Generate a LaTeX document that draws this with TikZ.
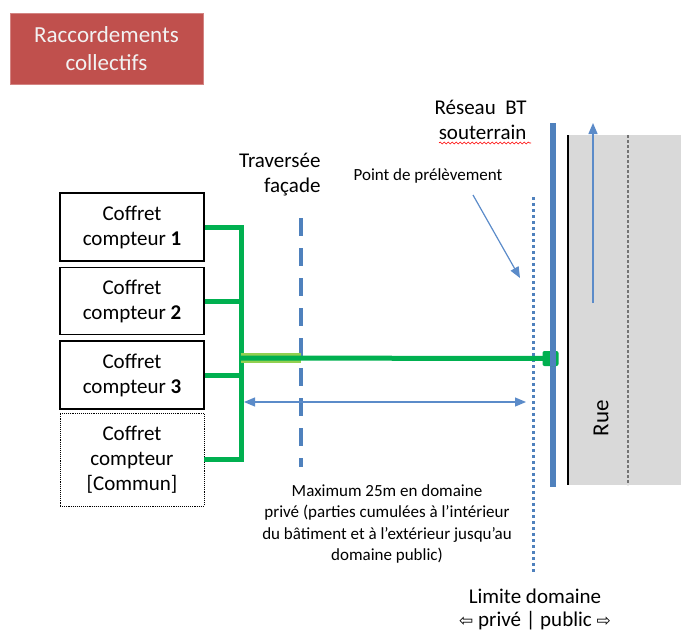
\documentclass[tikz,border=0pt]{standalone}
\usepackage{fontspec}
\setmainfont{Carlito}
\newfontfamily\symfont{DejaVu Sans}
\usetikzlibrary{arrows.meta,decorations.pathmorphing}
\definecolor{vertcable}{HTML}{00B050}
\definecolor{vertclair}{HTML}{92D050}
\definecolor{bleureseau}{HTML}{4F81BD}
\definecolor{bleufleche}{HTML}{5B8BC9}
\definecolor{rougetitre}{HTML}{C0504D}
\definecolor{grisrue}{HTML}{D9D9D9}
\begin{document}
\begin{tikzpicture}[x=1pt,y=-1pt,
    coffret/.style={draw,line width=1.1pt,minimum width=144pt,align=center,font=\fontsize{21}{25}\selectfont},
    cable/.style={vertcable,line width=5pt},
    fleche/.style={bleufleche,line width=1.4pt,-{Triangle[length=11pt,width=9pt]}},
    texte/.style={font=\fontsize{21}{25}\selectfont},
    petit/.style={font=\fontsize{17}{21.5}\selectfont}]
                \useasboundingbox (0,0) rectangle (681,630);
                % titre
                \node[fill=rougetitre,draw=rougetitre!70!white,text=white!95!black,minimum width=193pt,minimum height=71pt,align=center,font=\fontsize{23}{28}\selectfont] (titre) at (106.5,48.5) {Raccordements\\collectifs};
                % rue
                \fill[grisrue] (568,135) rectangle (681,485);
                \draw[line width=1.5pt] (568,135) -- (568,485);
                \draw[black!55,line width=1.2pt,dash pattern=on 3pt off 2pt] (628,135) -- (628,485);
                \coordinate (sensBas) at (593,303);
                \coordinate (sensHaut) at (593,123);
                \draw[fleche] (sensBas) -- (sensHaut);
                \node[rotate=90,font=\fontsize{23}{27}\selectfont] (rue) at (601,418) {Rue};
                % coffrets
                \node[coffret,minimum height=68pt] (coffret1) at (132,227) {Coffret\\compteur \textbf{1}};
                \node[coffret,minimum height=67pt] (coffret2) at (132,301) {Coffret\\compteur \textbf{2}};
                \node[coffret,minimum height=68pt] (coffret3) at (132,375) {Coffret\\compteur \textbf{3}};
                \node[coffret,densely dotted,line width=0.9pt,minimum height=93pt] (coffret4) at (132,459.5) {Coffret\\compteur\\{[Commun]}};
                % limites
                \coordinate (facHaut) at (301,218);
                \coordinate (facBas) at (301,467);
                \draw[bleureseau,line width=4pt,dash pattern=on 18pt off 12pt] (facHaut) -- (facBas);
                \coordinate (limHaut) at (533,197);
                \coordinate (limBas) at (533,572);
                \draw[bleureseau,line width=3pt,dash pattern=on 3pt off 3pt] (limHaut) -- (limBas);
                \coordinate (resHaut) at (553,123);
                \coordinate (resBas) at (553,487);
                \draw[bleureseau,line width=5.5pt] (resHaut) -- (resBas);
                % colonne et branchement
                \coordinate (bus) at (241,358);
                \draw[cable] (coffret1.east) -- (coffret1.east -| bus) -- (coffret4.east -| bus) -- (coffret4.east);
                \draw[cable] (coffret2.east) -- (coffret2.east -| bus);
                \draw[cable] (coffret3.east) -- (coffret3.east -| bus);
                \draw[vertclair,line width=10pt] (bus) -- (bus -| facHaut);
                \node[fill=vertcable,rounded corners=2pt,minimum width=16pt,minimum height=15pt,inner sep=0pt] (jonction) at (550.5,358.5) {};
                \draw[cable] (bus) -- (jonction.center);
                \draw[bleureseau,line width=5.5pt] (jonction.north -| resHaut) -- (jonction.south -| resHaut);
                % cotes et fleches
                \coordinate (coteG) at (244,402);
                \coordinate (coteD) at (526,402);
                \draw[fleche,line width=1.2pt,{Triangle[length=11pt,width=9pt]}-{Triangle[length=11pt,width=9pt]}] (coteG) -- (coteD);
                \node[petit] (point) at (428,176) {Point de prélèvement};
                \coordinate (pointPied) at (520,278);
                \draw[fleche,line width=1.2pt] (473,195) -- (pointPied);
                % textes
                \node[texte,align=right,anchor=east] (traversee) at (324,174.5) {Traversée\\façade};
                \node[texte,align=right,anchor=east] (reseau) at (530,120) {Réseau\ \ BT\\souterrain};
                \draw[red,line width=0.6pt,decorate,decoration={snake,amplitude=1pt,segment length=4pt}] (439,143) -- (531,143);
                \node[petit,align=center] (maximum) at (387,524) {Maximum 25m en domaine\\privé (parties cumulées à l’intérieur\\du bâtiment et à l’extérieur jusqu’au\\domaine public)};
                \node[texte,align=center,font=\fontsize{21}{23}\selectfont] (limite) at (535,609) {Limite domaine\\{\symfont\fontsize{17}{23}\selectfont ⇦} privé | public {\symfont\fontsize{17}{23}\selectfont ⇨}};
            \end{tikzpicture}
\end{document}
